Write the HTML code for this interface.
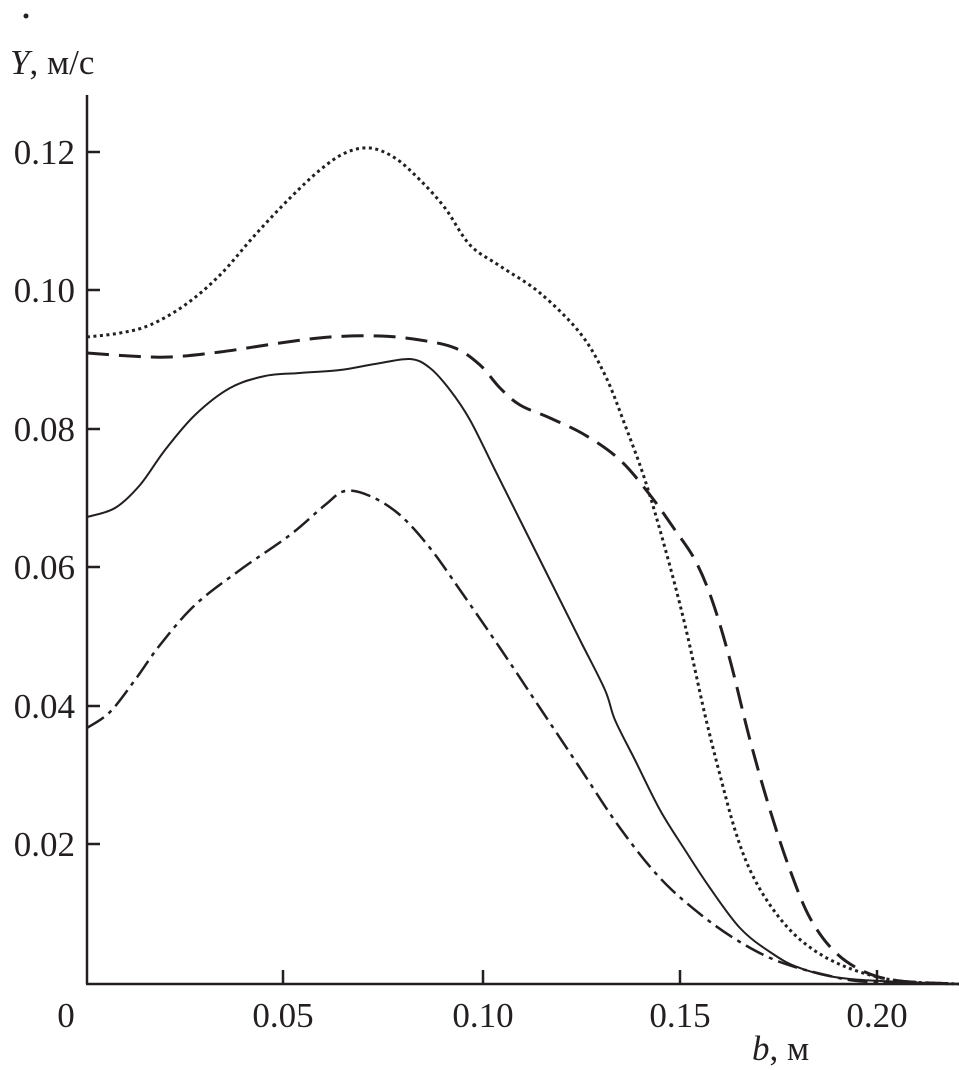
<!DOCTYPE html>
<html><head><meta charset="utf-8"><style>body{margin:0;background:#fff}svg{display:block}text{font-family:"Liberation Serif",serif}</style></head>
<body>
<svg width="959" height="1070" viewBox="0 0 959 1070" xmlns="http://www.w3.org/2000/svg" fill="#231f20">
<g stroke="#231f20" stroke-width="2.5" fill="none">
<line x1="87" y1="95" x2="87" y2="984"/>
<line x1="86" y1="984" x2="959" y2="984"/>
<line x1="87" y1="152" x2="100" y2="152"/>
<line x1="87" y1="290" x2="100" y2="290"/>
<line x1="87" y1="429" x2="100" y2="429"/>
<line x1="87" y1="567" x2="100" y2="567"/>
<line x1="87" y1="706" x2="100" y2="706"/>
<line x1="87" y1="844" x2="100" y2="844"/>
<line x1="283" y1="984" x2="283" y2="970"/>
<line x1="483" y1="984" x2="483" y2="970"/>
<line x1="680" y1="984" x2="680" y2="970"/>
<line x1="877" y1="984" x2="877" y2="970"/>
</g>
<g font-size="35" text-anchor="end">
<text x="75" y="164">0.12</text>
<text x="75" y="302">0.10</text>
<text x="75" y="441">0.08</text>
<text x="75" y="579">0.06</text>
<text x="75" y="718">0.04</text>
<text x="75" y="856">0.02</text>
</g>
<g font-size="35" text-anchor="middle">
<text x="66" y="1027">0</text>
<text x="283" y="1027">0.05</text>
<text x="483" y="1027">0.10</text>
<text x="680" y="1027">0.15</text>
<text x="877" y="1027">0.20</text>
</g>
<text x="10" y="74" font-size="35"><tspan font-style="italic">Y</tspan>, м/с</text>
<circle cx="26" cy="16" r="2.5"/>
<text x="752" y="1060" font-size="35"><tspan font-style="italic">b</tspan>, м</text>
<g fill="none" stroke="#231f20" stroke-linejoin="round" stroke-linecap="butt" id="curves">
<polyline stroke-width="3" stroke-dasharray="3,3.5" points="87,337 120,333 150,325 185,305 220,275 255,235 290,198 320,170 345,153 370,148 395,158 420,180 445,208 470,245 500,266 540,293 580,333 605,375 625,425 645,480 665,548 685,625 705,715 720,775 735,830 750,870 770,905 795,935 825,957 860,972 900,981 959,984"/>
<polyline stroke-width="3" stroke-dasharray="22,10" points="87,353 130,356 170,357 220,352 280,343 330,337 380,336 420,340 455,348 480,365 500,388 520,405 550,418 585,435 620,460 650,495 675,530 695,560 712,600 730,660 750,740 770,810 790,870 810,918 835,952 865,972 900,981 959,984"/>
<polyline stroke-width="2" points="87,517 115,508 140,485 165,450 195,415 230,388 265,376 300,373 340,370 375,364 410,359 430,368 450,390 470,420 495,470 520,520 550,580 580,640 605,690 615,720 635,760 660,810 685,850 710,888 740,928 770,952 800,968 850,979 959,984"/>
<polyline stroke-width="2.5" stroke-dasharray="20,6,4,6" points="87,728 110,712 135,680 160,645 195,605 240,570 290,535 325,505 345,491 370,496 400,515 430,548 460,590 500,648 540,708 580,768 620,828 660,878 700,914 740,942 780,962 830,976 870,982 959,984"/>
</g>
</svg>
<script>
document.querySelectorAll('#curves polyline').forEach(function(pl){
  var p=pl.getAttribute('points').trim().split(/\s+/).map(function(s){return s.split(',').map(Number);});
  var d='M'+p[0][0]+','+p[0][1];
  for(var i=0;i<p.length-1;i++){
    var p0=p[i-1]||p[i],p1=p[i],p2=p[i+1],p3=p[i+2]||p2;
    var c1x=p1[0]+(p2[0]-p0[0])/6,c1y=p1[1]+(p2[1]-p0[1])/6;
    var c2x=p2[0]-(p3[0]-p1[0])/6,c2y=p2[1]-(p3[1]-p1[1])/6;
    d+=' C'+c1x+','+c1y+' '+c2x+','+c2y+' '+p2[0]+','+p2[1];
  }
  var path=document.createElementNS('http://www.w3.org/2000/svg','path');
  ['stroke-width','stroke-dasharray'].forEach(function(a){if(pl.getAttribute(a))path.setAttribute(a,pl.getAttribute(a));});
  path.setAttribute('d',d);
  pl.parentNode.replaceChild(path,pl);
});
</script>
</body></html>
